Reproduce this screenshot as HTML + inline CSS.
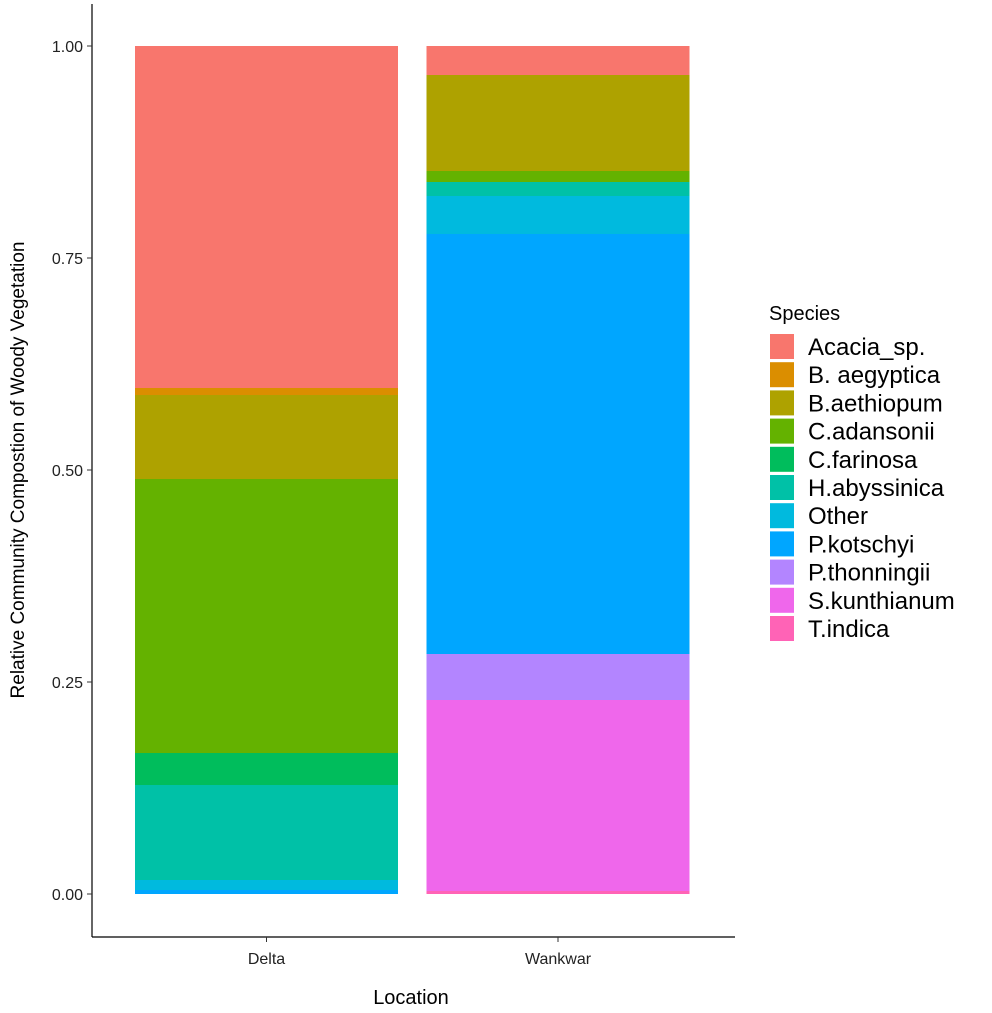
<!DOCTYPE html>
<html><head><meta charset="utf-8"><style>
body{margin:0;background:#fff;font-family:"Liberation Sans",Arial,sans-serif}
svg{display:block}
</style></head><body>
<svg id="chart" width="992" height="1013" xmlns="http://www.w3.org/2000/svg">
<g id="bars" shape-rendering="crispEdges"></g>
<line x1="92" y1="4" x2="92" y2="937" stroke="#000" stroke-width="1.2"/>
<line x1="92" y1="937" x2="735" y2="937" stroke="#000" stroke-width="1.2"/>
<g id="yticks"></g>
<g id="xticks"></g>
<text x="411" y="1004" font-size="20" text-anchor="middle" fill="#000">Location</text>
<text transform="translate(24,470) rotate(-90)" font-size="19" text-anchor="middle" fill="#000">Relative Community Compostion of Woody Vegetation</text>
<g id="legend">
<text x="769" y="320" font-size="20" fill="#000">Species</text>
</g>
</svg>
<script>
const species=["Acacia_sp.","B. aegyptica","B.aethiopum","C.adansonii","C.farinosa","H.abyssinica","Other","P.kotschyi","P.thonningii","S.kunthianum","T.indica"];
const colors=["#F8766D","#DB8E00","#AEA200","#64B200","#00BD5C","#00C1A7","#00BADE","#00A6FF","#B385FF","#EF67EB","#FF63B6"];
const locations=["Delta","Wankwar"];
const deltaValues=[0.403,0.008,0.100,0.323,0.037,0.112,0.012,0.005,0,0,0];
const wankwarValues=[0.034,0,0.113,0.013,0,0.017,0.045,0.495,0.054,0.225,0.004];
const yTicks=[0,0.25,0.5,0.75,1];
const yTickLabels=["0.00","0.25","0.50","0.75","1.00"];
const NS="http://www.w3.org/2000/svg";
const y=v=>894-v*848;
const xCenter=i=>266.5+i*291.5;
const barW=263;
const series=[deltaValues,wankwarValues];
const gb=document.getElementById('bars');
series.forEach((vals,li)=>{
  let cum=0;
  for(let s=species.length-1;s>=0;s--){
    const v=vals[s]; if(v<=0) continue;
    const r=document.createElementNS(NS,'rect');
    r.setAttribute('x',xCenter(li)-barW/2);
    r.setAttribute('y',Math.round(y(cum+v)));
    r.setAttribute('width',barW);
    r.setAttribute('height',Math.round(y(cum))-Math.round(y(cum+v)));
    r.setAttribute('fill',colors[s]);
    
    
    gb.appendChild(r);
    cum+=v;
  }
});
const gy=document.getElementById('yticks');
yTicks.forEach((t,i)=>{
  const l=document.createElementNS(NS,'line');
  l.setAttribute('x1',87);l.setAttribute('x2',92);l.setAttribute('y1',y(t));l.setAttribute('y2',y(t));l.setAttribute('stroke','#333');
  
  
  gy.appendChild(l);
  const tx=document.createElementNS(NS,'text');
  tx.setAttribute('x',83);tx.setAttribute('y',y(t)+6);tx.setAttribute('text-anchor','end');tx.setAttribute('font-size','16');tx.setAttribute('fill','#222');
  tx.textContent=yTickLabels[i];
  
  
  gy.appendChild(tx);
});
const gx=document.getElementById('xticks');
locations.forEach((loc,i)=>{
  const l=document.createElementNS(NS,'line');
  l.setAttribute('x1',xCenter(i));l.setAttribute('x2',xCenter(i));l.setAttribute('y1',937);l.setAttribute('y2',942);l.setAttribute('stroke','#333');
  
  
  gx.appendChild(l);
  const tx=document.createElementNS(NS,'text');
  tx.setAttribute('x',xCenter(i));tx.setAttribute('y',964);tx.setAttribute('text-anchor','middle');tx.setAttribute('font-size','16');tx.setAttribute('fill','#222');
  tx.textContent=loc;
  
  
  gx.appendChild(tx);
});
const gl=document.getElementById('legend');
species.forEach((sp,i)=>{
  const yy=334+i*28.2;
  const r=document.createElementNS(NS,'rect');
  r.setAttribute('x',770);r.setAttribute('y',yy);r.setAttribute('width',24);r.setAttribute('height',25);r.setAttribute('fill',colors[i]);
  
  
  gl.appendChild(r);
  const tx=document.createElementNS(NS,'text');
  tx.setAttribute('x',808);tx.setAttribute('y',yy+21);tx.setAttribute('font-size','24');tx.setAttribute('fill','#000');
  tx.textContent=sp;
  
  
  gl.appendChild(tx);
});
</script>
</body></html>
